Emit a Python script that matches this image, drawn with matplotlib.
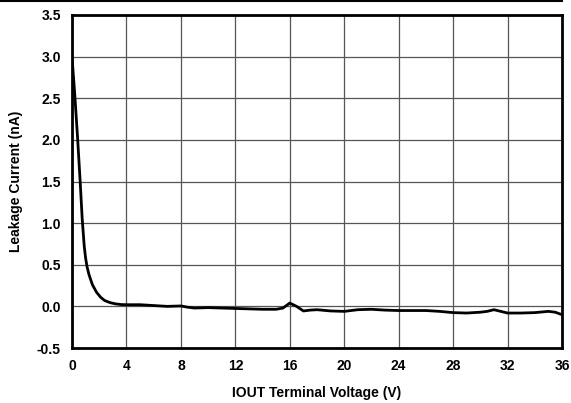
import numpy as np
import matplotlib
matplotlib.use('Agg')
import matplotlib.pyplot as plt
from matplotlib.lines import Line2D

plt.rcParams['font.family'] = ['Liberation Sans', 'DejaVu Sans']

# leakage current vs IOUT terminal voltage
voltage = [0.0, 0.2, 0.4, 0.6, 0.75, 0.9, 1.0, 1.1, 1.25, 1.5, 1.8, 2.1,
           2.4, 2.8, 3.2, 3.6, 4.0, 5.0, 6.0, 7.0, 8.0, 8.5, 9.0, 10.0,
           11.0, 12.0, 13.0, 14.0, 15.0, 15.5, 16.0, 16.5, 17.0, 17.5,
           18.0, 19.0, 20.0, 21.0, 22.0, 23.0, 24.0, 25.0, 26.0, 27.0,
           28.0, 29.0, 30.0, 30.5, 31.0, 31.5, 32.0, 33.0, 34.0, 35.0,
           35.5, 36.0]
current = [3.0, 2.55, 2.05, 1.5, 1.05, 0.72, 0.58, 0.48, 0.38, 0.26, 0.17,
           0.11, 0.07, 0.045, 0.03, 0.022, 0.02, 0.02, 0.01, 0.0, 0.005,
           -0.01, -0.02, -0.015, -0.02, -0.025, -0.03, -0.035, -0.035,
           -0.02, 0.04, 0.0, -0.055, -0.045, -0.04, -0.055, -0.06, -0.04,
           -0.035, -0.045, -0.05, -0.05, -0.05, -0.06, -0.075, -0.08,
           -0.07, -0.06, -0.04, -0.06, -0.08, -0.08, -0.075, -0.06, -0.07,
           -0.1]

x_ticks = np.arange(0, 37, 4)
y_ticks = np.arange(-0.5, 3.51, 0.5)

fig = plt.figure(figsize=(5.71, 4.03), dpi=100)
ax = fig.add_axes([72/571, 1-348/403, (562-72)/571, (348-15)/403])

ax.plot(voltage, current, color='black', lw=2.0, solid_joinstyle='round')

ax.set_xlim(0, 36)
ax.set_ylim(-0.5, 3.5)
ax.set_xticks(x_ticks)
ax.set_yticks(y_ticks)
ax.set_xticklabels([str(v) for v in x_ticks], fontsize=10, fontweight='bold')
ax.set_yticklabels(['%.1f' % v for v in y_ticks], fontsize=10, fontweight='bold')
ax.tick_params(length=0, pad=8)
ax.grid(True, color='#555555', lw=0.9)
ax.set_axisbelow(True)
for s in ax.spines.values():
    s.set_linewidth(2.0)
    s.set_color('black')

ax.set_xlabel('IOUT Terminal Voltage (V)', fontsize=10, fontweight='bold', labelpad=9)
ax.set_ylabel('Leakage Current (nA)', fontsize=10, fontweight='bold', labelpad=10)

# rule across the top of the figure
fig.add_artist(Line2D([0, 562/571], [0.998, 0.998], color='black', lw=1.5,
                      transform=fig.transFigure))

fig.savefig('out.png', dpi=100)
